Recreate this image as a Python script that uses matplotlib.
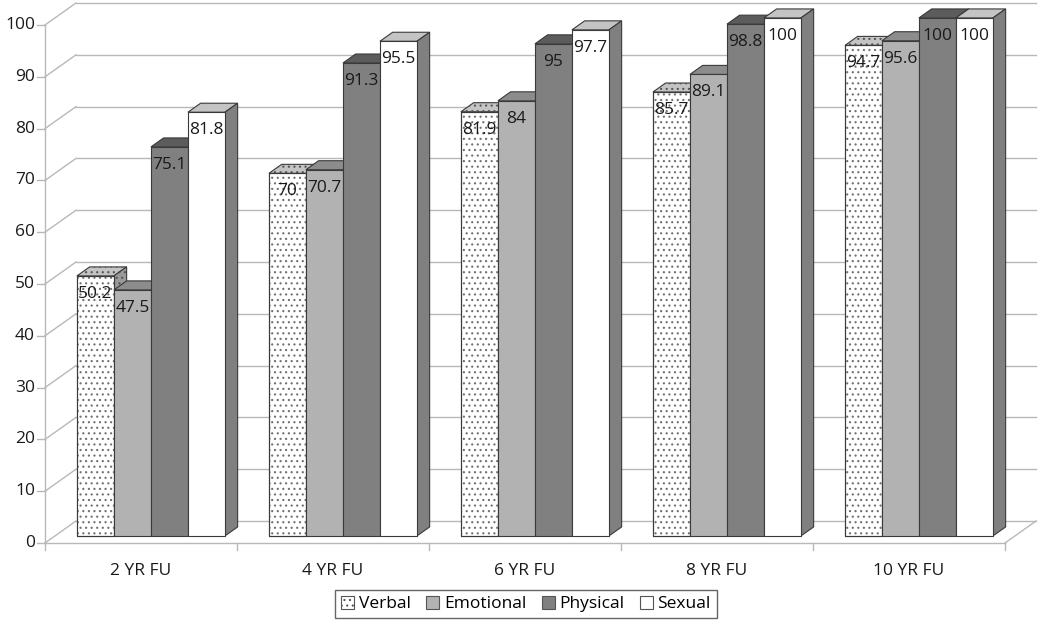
import matplotlib.pyplot as plt
from matplotlib.patches import Polygon, Patch

plt.rcParams['font.family'] = ['Open Sans', 'DejaVu Sans']
plt.rcParams['hatch.linewidth'] = 0.8

categories = ['2 YR FU', '4 YR FU', '6 YR FU', '8 YR FU', '10 YR FU']
series = ['Verbal', 'Emotional', 'Physical', 'Sexual']
verbal = [50.2, 70, 81.9, 85.7, 94.7]
emotional = [47.5, 70.7, 84, 89.1, 95.6]
physical = [75.1, 91.3, 95, 98.8, 100]
sexual = [81.8, 95.5, 97.7, 100, 100]
yticks = [0, 10, 20, 30, 40, 50, 60, 70, 80, 90, 100]

# front / top / side colours for each series
front_col = ['white', '#b2b2b2', '#808080', 'white']
top_col = ['#c4c4c4', '#8c8c8c', '#5c5c5c', '#c4c4c4']
side_col = ['#9a9a9a', '#8a8a8a', '#6a6a6a', '#808080']
hatches = ['...', None, None, None]
edge = '#3a3a3a'
grid = '#b8b8b8'
fs = 12.5

# pixel scales for the fake 3d box
PX = 192.0   # px per category
PY = 5.18    # px per value unit
DX = 31 / PX  # depth of the box in data units
DY = 22 / PY
F0 = 0.32    # bars start this far into the box
FB = 0.41    # bar depth
W = 37 / PX  # bar width

fig = plt.figure(figsize=(10.5, 6.36), dpi=100)
ax = fig.add_axes([0, 0, 1, 1])
ax.set_xlim(-45 / PX, (1050 - 45) / PX)
ax.set_ylim(-93 / PY, 543 / PY)
ax.axis('off')

n = len(categories)
# walls and gridlines
for v in yticks:
    ax.plot([0, DX], [v, v + DY], color=grid, lw=1, zorder=1)
    ax.plot([DX, n + DX], [v + DY, v + DY], color=grid, lw=1, zorder=1)
    ax.plot([-8 / PX, 0], [v, v], color=grid, lw=1, zorder=1)
    ax.text(-10 / PX, v, str(v), ha='right', va='center', fontsize=fs, color='#1a1a1a')
ax.plot([0, 0], [0, 100], color=grid, lw=1, zorder=1)
ax.plot([0, n], [0, 0], color=grid, lw=1, zorder=1)
ax.plot([n, n + DX], [0, DY], color=grid, lw=1, zorder=1)
for i in range(n + 1):
    ax.plot([i, i], [0, -7 / PY], color=grid, lw=1, zorder=1)
for i, c in enumerate(categories):
    ax.text(i + 0.5, -28 / PY, c, ha='center', va='center', fontsize=fs, color='#1a1a1a')

data = [verbal, emotional, physical, sexual]
z = 3
for i in range(n):
    for k in range(len(series)):
        val = data[k][i]
        xl = i + 0.5 - 2 * W + k * W + F0 * DX
        xr = xl + W
        yb = F0 * DY
        yt = yb + val
        dx, dy = FB * DX, FB * DY
        top = [(xl, yt), (xr, yt), (xr + dx, yt + dy), (xl + dx, yt + dy)]
        side = [(xr, yb), (xr + dx, yb + dy), (xr + dx, yt + dy), (xr, yt)]
        for pts, col in [(top, top_col[k]), (side, side_col[k])]:
            ax.add_patch(Polygon(pts, closed=True, facecolor=col, edgecolor=edge, lw=0.8, zorder=z))
            if hatches[k]:
                ax.add_patch(Polygon(pts, closed=True, facecolor='none', edgecolor='#555555',
                                     hatch=hatches[k], lw=0, zorder=z))
        z += 1
        ax.bar(xl, val, width=W, bottom=yb, align='edge', color=front_col[k],
               edgecolor=edge, lw=0.8, zorder=z)
        if hatches[k]:
            ax.bar(xl, val, width=W, bottom=yb, align='edge', color='none',
                   edgecolor='#707070', hatch=hatches[k], lw=0, zorder=z)
            ax.bar(xl, val, width=W, bottom=yb, align='edge', fill=False,
                   edgecolor=edge, lw=0.8, zorder=z)
        ax.text(xl + W / 2, yt - 18 / PY, f'{val:g}', ha='center', va='center',
                fontsize=fs, color='#1a1a1a', zorder=z + 100)
        z += 1

handles = []
for k in range(len(series)):
    handles.append(Patch(facecolor=front_col[k], edgecolor='#555555', hatch=hatches[k],
                         lw=0.8, label=series[k]))
leg = fig.legend(handles=handles, loc='lower center', bbox_to_anchor=(526 / 1050, 9 / 636),
                 ncol=4, frameon=True, fancybox=False, fontsize=fs,
                 handlelength=0.75, handleheight=0.75, handletextpad=0.25,
                 columnspacing=0.9, borderpad=0.35)
leg.get_frame().set_edgecolor('#404040')
leg.get_frame().set_linewidth(1)

fig.savefig('out.png', dpi=100)
